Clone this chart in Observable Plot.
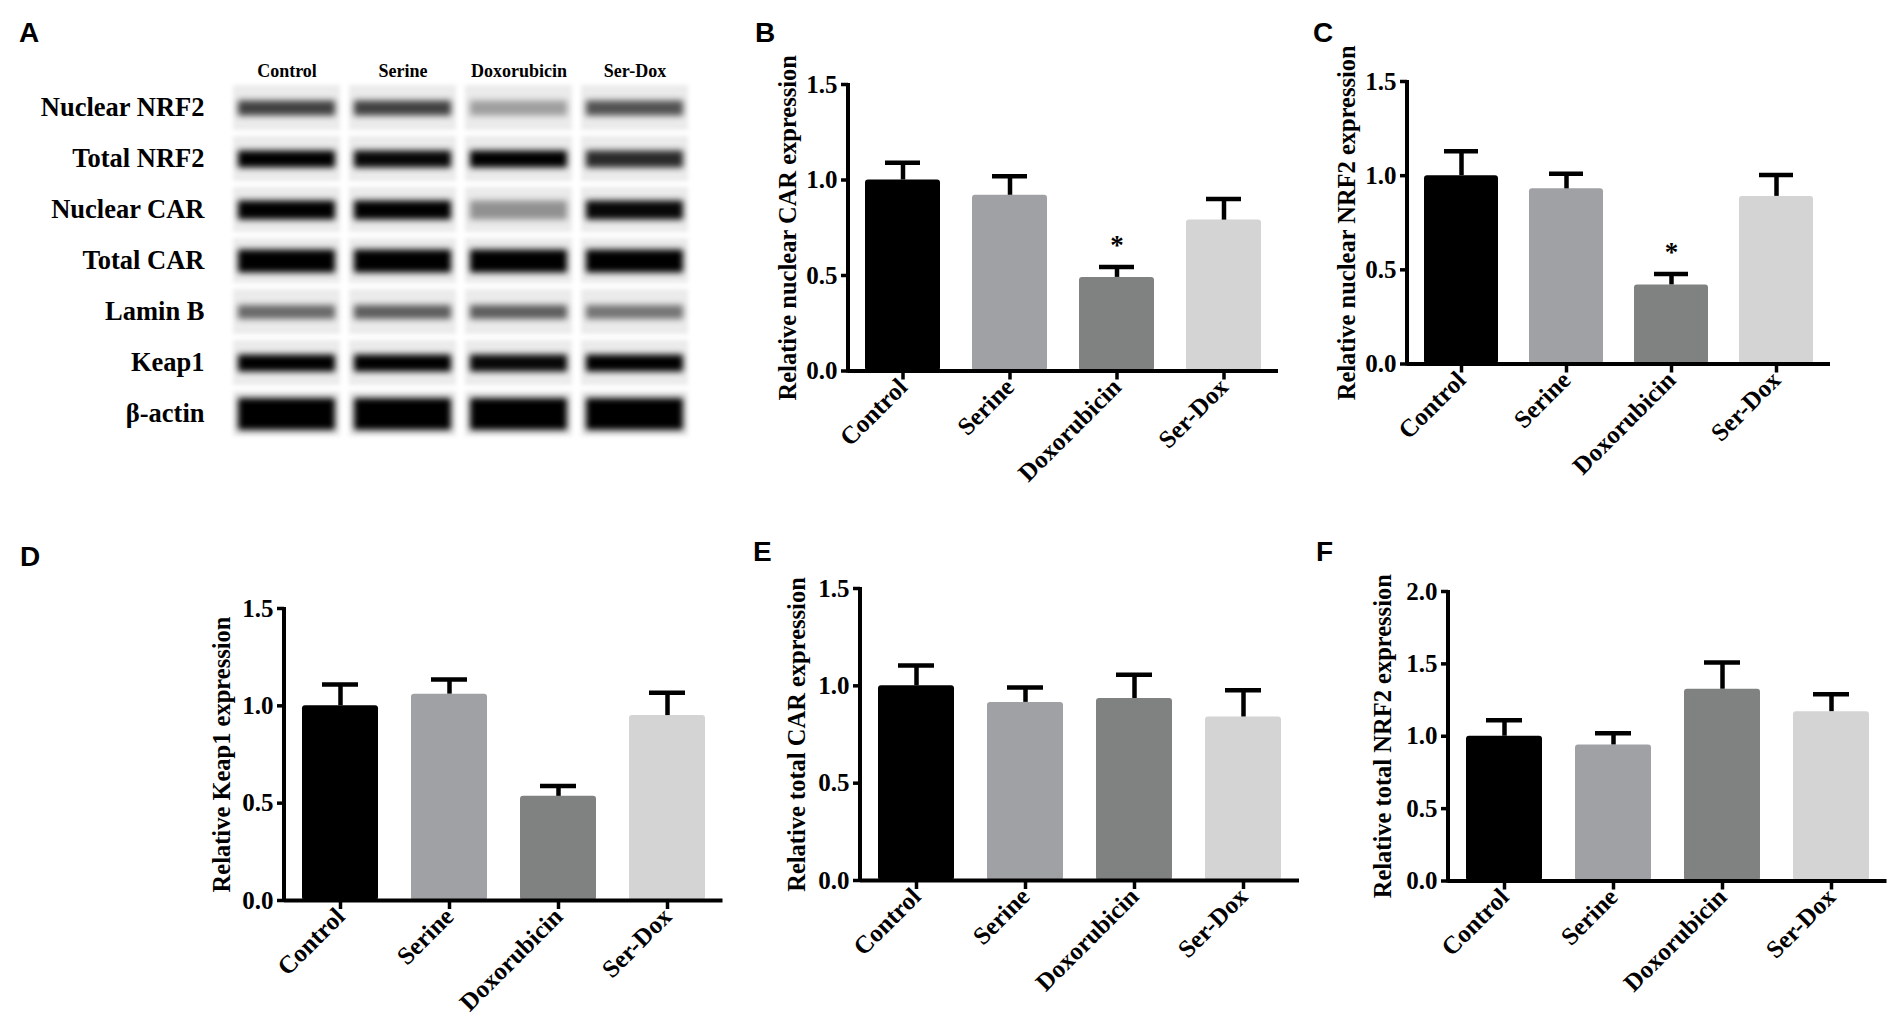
<!DOCTYPE html>
<html>
<head>
<meta charset="utf-8">
<script src="https://cdn.jsdelivr.net/npm/d3@7"></script>
<script src="https://cdn.jsdelivr.net/npm/@observablehq/plot@0.6"></script>
<style>
  html, body { margin: 0; padding: 0; background: #ffffff; }
  #fig { position: relative; width: 1892px; height: 1025px; overflow: hidden; background: #fff; }
  .letter { position: absolute; font-family: "Liberation Sans", Arial, sans-serif; font-weight: bold; font-size: 28px; line-height: 1; color: #000; }
</style>
</head>
<body>
<div id="fig"></div>
<script>
// ---------------- DATA ----------------
const groups = ["Control", "Serine", "Doxorubicin", "Ser-Dox"];
const barColors = ["#000000", "#a0a1a4", "#808181", "#d4d4d4"];

const nuclearCARMean = [1.00, 0.92, 0.49, 0.79];
const nuclearCARSem  = [0.09, 0.10, 0.055, 0.11];
const nuclearCARSig  = ["", "", "*", ""];

const nuclearNRF2Mean = [1.00, 0.93, 0.42, 0.89];
const nuclearNRF2Sem  = [0.13, 0.08, 0.058, 0.113];
const nuclearNRF2Sig  = ["", "", "*", ""];

const keap1Mean = [1.00, 1.06, 0.535, 0.95];
const keap1Sem  = [0.11, 0.075, 0.053, 0.117];

const totalCARMean = [1.00, 0.915, 0.935, 0.84];
const totalCARSem  = [0.105, 0.077, 0.122, 0.137];

const totalNRF2Mean = [1.00, 0.94, 1.325, 1.17];
const totalNRF2Sem  = [0.11, 0.08, 0.185, 0.12];

const yTicks15 = [0, 0.5, 1.0, 1.5];
const yTicks20 = [0, 0.5, 1.0, 1.5, 2.0];

// Western blot (panel A): lanes, rows and band density (0 = none, 1 = black)
const blotLanes = ["Control", "Serine", "Doxorubicin", "Ser-Dox"];
const blotRows = ["Nuclear NRF2", "Total NRF2", "Nuclear CAR", "Total CAR", "Lamin B", "Keap1", "β-actin"];
const densityNuclearNRF2 = [0.72, 0.72, 0.32, 0.65];
const densityTotalNRF2   = [1.00, 0.97, 1.00, 0.82];
const densityNuclearCAR  = [1.00, 1.00, 0.38, 0.97];
const densityTotalCAR    = [1.00, 1.00, 1.00, 1.00];
const densityLaminB      = [0.55, 0.60, 0.60, 0.50];
const densityKeap1       = [1.00, 1.00, 0.97, 1.00];
const densityBetaActin   = [1.00, 1.00, 1.00, 1.00];

// ---------------- STYLE ----------------
const serif = '"Liberation Serif", "Times New Roman", Times, serif';
const bandThickness = {"Nuclear NRF2": 15, "Total NRF2": 17, "Nuclear CAR": 19, "Total CAR": 23, "Lamin B": 14, "Keap1": 17, "β-actin": 32};

const fig = document.getElementById("fig");

function place(el, left, top) {
  el.style.position = "absolute";
  el.style.left = left + "px";
  el.style.top = top + "px";
  fig.appendChild(el);
}

function letter(t, left, top) {
  const d = document.createElement("div");
  d.className = "letter";
  d.textContent = t;
  d.style.left = left + "px";
  d.style.top = top + "px";
  fig.appendChild(d);
}

// ---------------- PANEL A (blot) ----------------
const densities = [densityNuclearNRF2, densityTotalNRF2, densityNuclearCAR, densityTotalCAR, densityLaminB, densityKeap1, densityBetaActin];
const cells = [];
blotRows.forEach((r, ri) => blotLanes.forEach((l, li) => cells.push({row: r, lane: l, density: densities[ri][li]})));

const blot = Plot.plot({
  width: 720, height: 470,
  marginLeft: 233, marginRight: 32, marginTop: 84, marginBottom: 34,
  style: {fontFamily: serif, fontWeight: "bold", fontSize: "26px", color: "#000", background: "transparent", overflow: "visible"},
  x: {type: "band", domain: blotLanes, paddingInner: 0.08, paddingOuter: 0, label: null},
  y: {type: "band", domain: blotRows, paddingInner: 0.12, paddingOuter: 0, label: null},
  opacity: {type: "identity"},
  marks: [
    Plot.cell(cells, {x: "lane", y: "row", fill: "#ebebeb", imageFilter: "blur(2px)"}),
    Plot.tickY(cells, {x: "lane", y: "row", stroke: "#000", strokeOpacity: "density",
      strokeWidth: (d) => bandThickness[d.row], insetLeft: 5, insetRight: 5, imageFilter: "blur(3px)"}),
    Plot.axisY({anchor: "left", tickSize: 0, tickPadding: 29, fontSize: 26.5}),
    Plot.axisX({anchor: "top", tickSize: 0, tickPadding: 8, fontSize: 18})
  ]
});
place(blot, 0, 0);

// ---------------- BAR PANELS ----------------
const panels = [
  {title: "Relative nuclear CAR expression", mean: nuclearCARMean, sem: nuclearCARSem, sig: nuclearCARSig, ticks: yTicks15,
   axisX: 848, axisEnd: 1278, y0: 370, yTop: 83.5, titleDx: -60},
  {title: "Relative nuclear NRF2 expression", mean: nuclearNRF2Mean, sem: nuclearNRF2Sem, sig: nuclearNRF2Sig, ticks: yTicks15,
   axisX: 1407, axisEnd: 1830, y0: 363.5, yTop: 81, titleDx: -60},
  {title: "Relative Keap1 expression", mean: keap1Mean, sem: keap1Sem, sig: null, ticks: yTicks15,
   axisX: 283.5, axisEnd: 722, y0: 900, yTop: 608, titleDx: -62},
  {title: "Relative total CAR expression", mean: totalCARMean, sem: totalCARSem, sig: null, ticks: yTicks15,
   axisX: 860, axisEnd: 1299, y0: 879.5, yTop: 587.5, titleDx: -63},
  {title: "Relative total NRF2 expression", mean: totalNRF2Mean, sem: totalNRF2Sem, sig: null, ticks: yTicks20,
   axisX: 1447.5, axisEnd: 1886, y0: 880, yTop: 590.5, titleDx: -65}
];

function barPanel(p) {
  const ML = 110, MR = 6, MT = 45, MB = 150;
  const rows = groups.map((g, i) => ({group: g, mean: p.mean[i], top: p.mean[i] + p.sem[i], sig: p.sig ? p.sig[i] : ""}));
  const yMax = p.ticks[p.ticks.length - 1];
  const yAxisLine = (index, scales, values, dimensions) =>
    d3.create("svg:line")
      .attr("x1", dimensions.marginLeft).attr("x2", dimensions.marginLeft)
      .attr("y1", scales.y(0) + 2).attr("y2", scales.y(yMax) - 1)
      .attr("stroke", "#000").attr("stroke-width", 4)
      .node();
  const chart = Plot.plot({
    width: p.axisEnd - p.axisX + ML + MR,
    height: p.y0 - p.yTop + MT + MB,
    marginLeft: ML, marginRight: MR, marginTop: MT, marginBottom: MB,
    style: {fontFamily: serif, fontWeight: "bold", fontSize: "25px", color: "#000", background: "transparent", overflow: "visible"},
    x: {type: "band", domain: groups, paddingInner: 0.3, paddingOuter: 0.15, label: null},
    y: {domain: [0, yMax], label: null},
    color: {domain: groups, range: barColors},
    marks: [
      Plot.barY(rows, {x: "group", y: "mean", fill: "group", rx: 3}),
      Plot.ruleX(rows, {x: "group", y1: "mean", y2: "top", stroke: "#000", strokeWidth: 4.5}),
      Plot.tickY(rows, {x: "group", y: "top", stroke: "#000", strokeWidth: 4.5, insetLeft: 20, insetRight: 20}),
      Plot.text(rows.filter((d) => d.sig), {x: "group", y: "top", text: "sig", dy: -22, fontSize: 27}),
      Plot.ruleY([0], {stroke: "#000", strokeWidth: 4}),
      yAxisLine,
      Plot.axisY({ticks: p.ticks, tickFormat: d3.format(".1f"), tickSize: 7, tickPadding: 4, strokeWidth: 3.5, label: null, fontSize: 25}),
      Plot.axisX({tickSize: 9, tickPadding: 3, tickRotate: -45, strokeWidth: 3.5, label: null, fontSize: 25}),
      Plot.text([p.title], {frameAnchor: "left", textAnchor: "middle", lineAnchor: "middle", rotate: -90, dx: p.titleDx, fontSize: 24.5})
    ]
  });
  place(chart, p.axisX - ML, p.yTop - MT);
}
panels.forEach(barPanel);

// ---------------- PANEL LETTERS ----------------
letter("A", 19, 19);
letter("B", 755, 19);
letter("C", 1313, 19);
letter("D", 20, 543);
letter("E", 753, 538);
letter("F", 1316, 538);
</script>
</body>
</html>
